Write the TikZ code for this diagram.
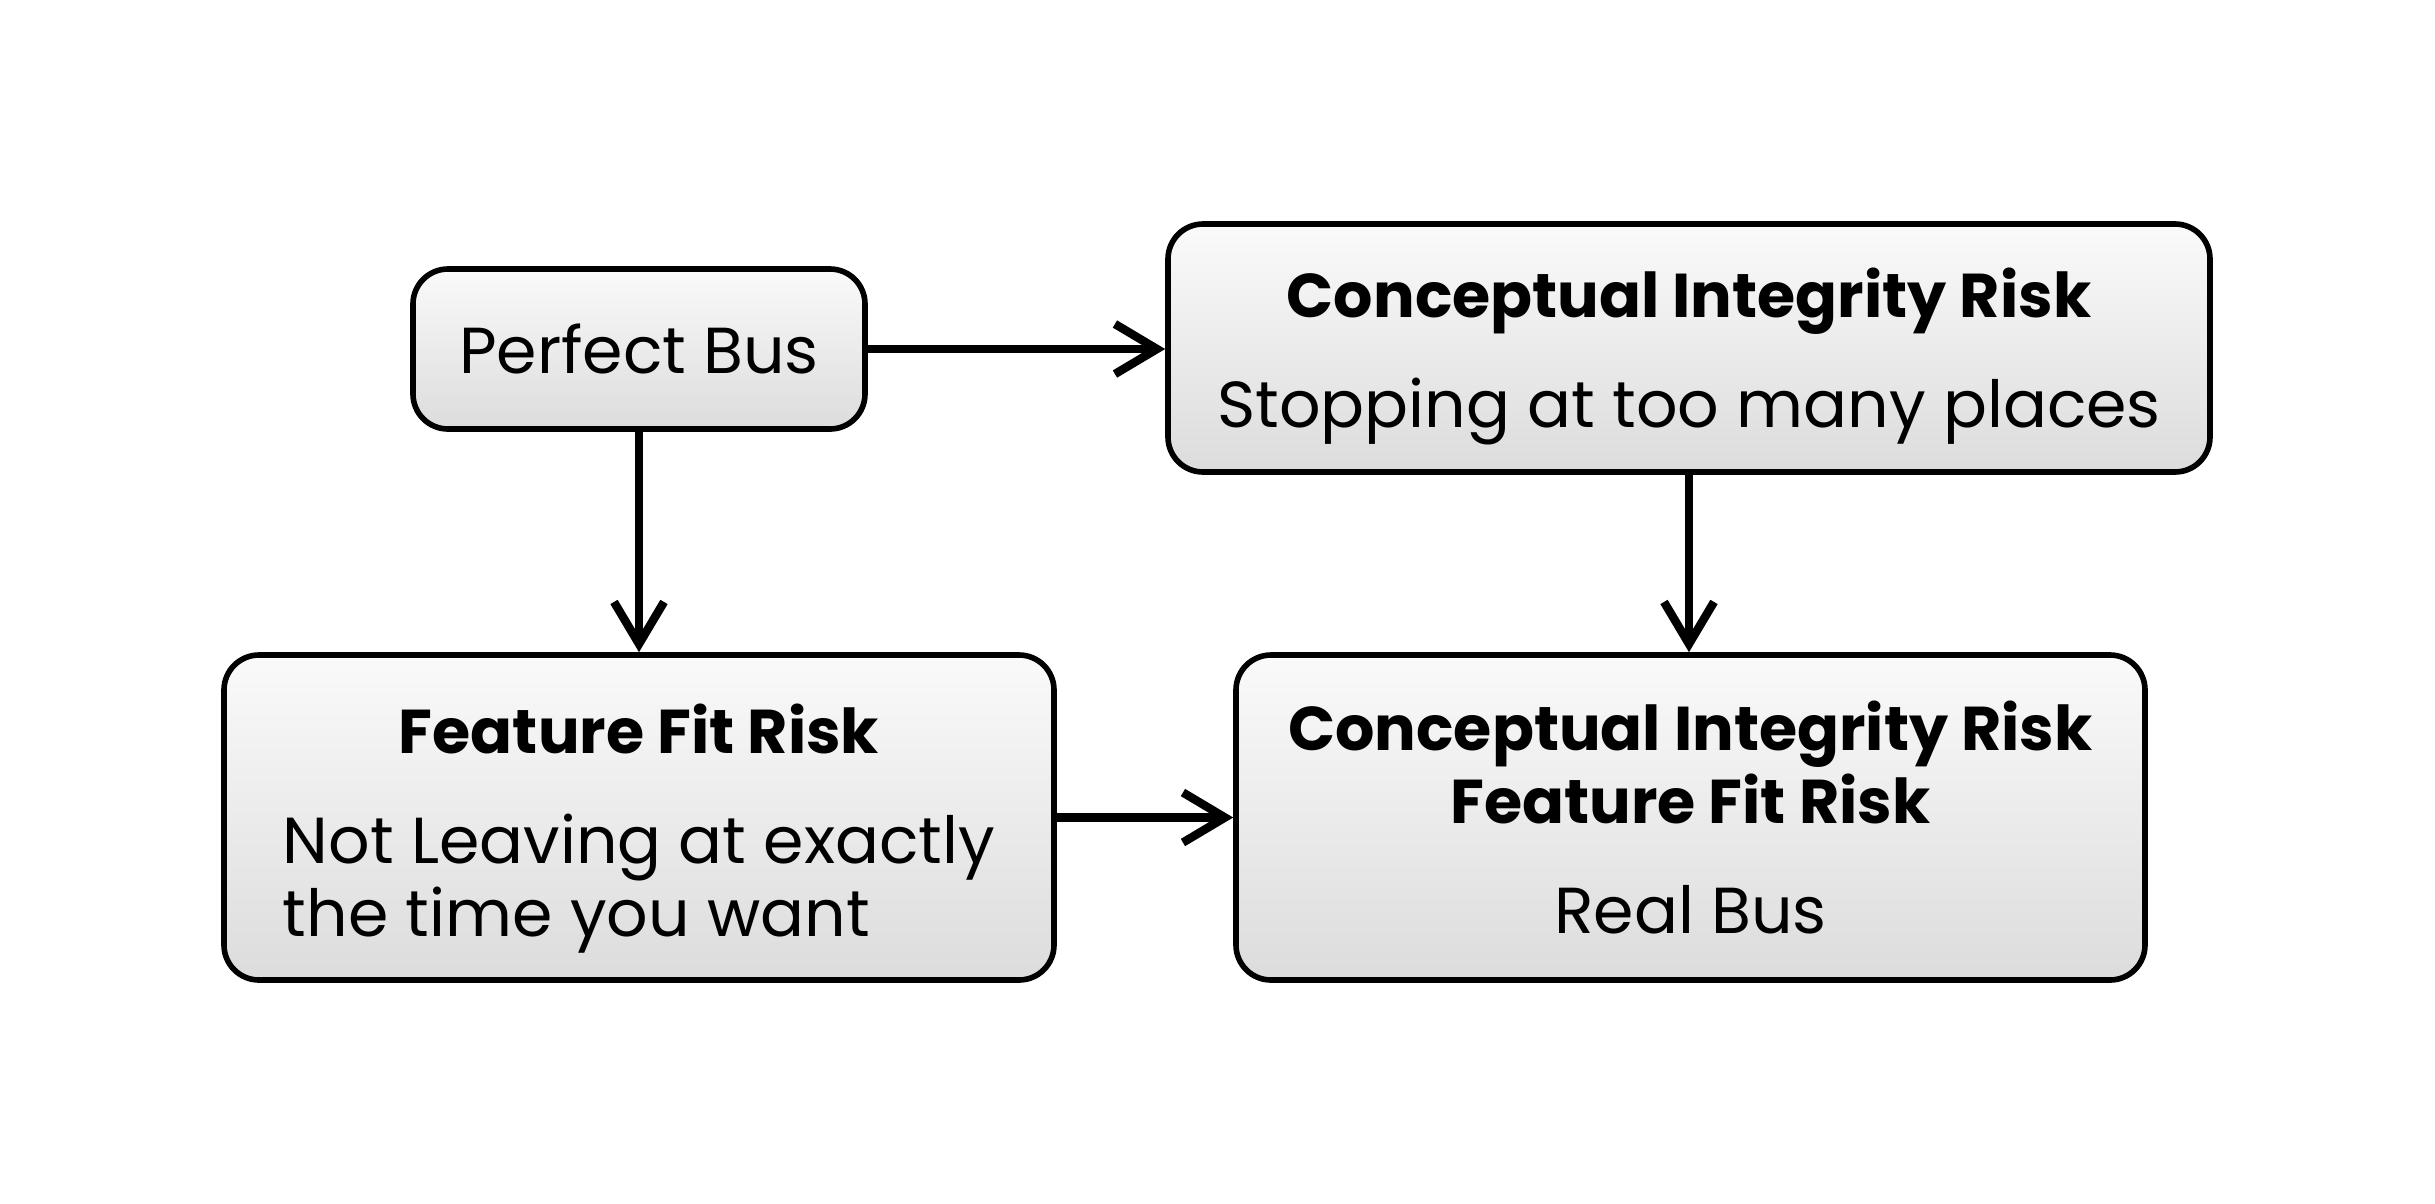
\documentclass[tikz,border=0pt]{standalone}
\usepackage{fontspec}
\setmainfont{Poppins}
\usetikzlibrary{arrows.meta, positioning}
\definecolor{boxtop}{HTML}{FAFAFA}
\definecolor{boxbottom}{HTML}{DCDCDC}
\newcommand{\riskhead}[1]{{\fontsize{17.6}{20.7}\selectfont\bfseries #1}}
\newcommand{\pushdown}[1][19pt]{\rule{0pt}{#1}}
\tikzset{
    riskbox/.style = {draw, line width = 1.6pt, rounded corners = 0.35cm, top color = boxtop, bottom color = boxbottom, align = center, inner sep = 0pt},
    flow/.style = {line width = 2.4pt, -{Straight Barb[length = 0.42cm, width = 0.5cm, line width = 2.4pt]}}
}
\begin{document}
\begin{tikzpicture}[every node/.append style = {font = \fontsize{18.5}{20.7}\selectfont}]
    \useasboundingbox (0,0) rectangle (24.35,-12.03);
    % boxes
    \node[riskbox, minimum width = 4.52cm, minimum height = 1.60cm] (perfect) at (6.39,-3.49) {Perfect Bus};
    \node[riskbox, minimum width = 10.42cm, minimum height = 2.48cm] (integrity) at (16.89,-3.48)
        {\pushdown\riskhead{Conceptual Integrity Risk}\\[10.5pt]Stopping at too many places};
    \node[riskbox, minimum width = 8.30cm, minimum height = 3.25cm] (fit) at (6.39,-8.175)
        {\pushdown[21.8pt]\riskhead{Feature Fit Risk}\\[10.5pt]\begin{tabular}[t]{@{}l@{}}Not Leaving at exactly\\the time you want\end{tabular}};
    \node[riskbox, minimum width = 9.09cm, minimum height = 3.25cm] (real) at (16.905,-8.175)
        {\riskhead{Conceptual Integrity Risk}\\\riskhead{Feature Fit Risk}\\[10.5pt]Real Bus};
    % arrows
    \draw[flow] (perfect.east) -- (perfect.east -| integrity.west);
    \draw[flow] (perfect.south) -- (perfect.south |- fit.north);
    \draw[flow] (integrity.south) -- (integrity.south |- real.north);
    \draw[flow] (fit.east) -- (fit.east -| real.west);
\end{tikzpicture}
\end{document}
